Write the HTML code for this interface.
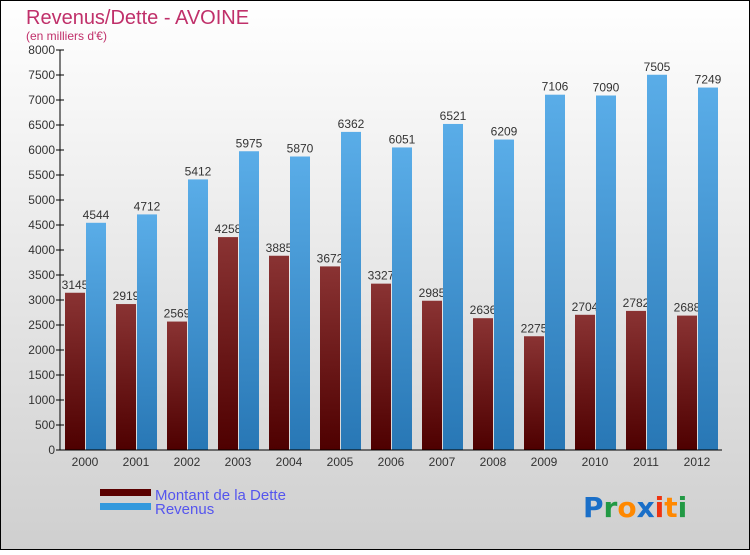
<!DOCTYPE html>
<html><head><meta charset="utf-8"><style>
body{margin:0;width:750px;height:550px;overflow:hidden;font-family:"Liberation Sans",sans-serif}
</style></head><body>
<svg width="750" height="550" xmlns="http://www.w3.org/2000/svg" font-family="Liberation Sans, sans-serif">
<defs>
<linearGradient id="bg" x1="0" y1="0" x2="0" y2="1"><stop offset="0" stop-color="#ffffff"/><stop offset="1" stop-color="#cfcfcf"/></linearGradient>
<linearGradient id="gd" x1="0" y1="0" x2="0" y2="1"><stop offset="0" stop-color="#8a3333"/><stop offset="1" stop-color="#4e0000"/></linearGradient>
<linearGradient id="gr" x1="0" y1="0" x2="0" y2="1"><stop offset="0" stop-color="#5aade8"/><stop offset="1" stop-color="#2877b5"/></linearGradient>
</defs>
<rect x="0.5" y="0.5" width="749" height="549" fill="url(#bg)" stroke="#000"/>
<text x="26" y="24" font-size="20" fill="#c0306a">Revenus/Dette - AVOINE</text>
<text x="26" y="40" font-size="12" fill="#c0306a">(en milliers d'€)</text>
<g id="plot"></g>
<rect x="100" y="489" width="51" height="7" fill="#5a0000"/>
<rect x="100" y="503" width="51" height="7" fill="#3399dd"/>
<text x="155" y="500" font-size="15" fill="#5555ee">Montant de la Dette</text>
<text x="155" y="514" font-size="15" fill="#5555ee">Revenus</text>
<g font-size="28" font-family="DejaVu Sans, sans-serif" font-weight="bold">
<text x="583" y="517"><tspan fill="#1a6fc8">P</tspan><tspan fill="#229944">r</tspan><tspan fill="#ff8800">o</tspan><tspan fill="#1a6fc8">x</tspan><tspan fill="#ee3311">i</tspan><tspan fill="#ff8800">t</tspan><tspan fill="#229944">i</tspan></text>
</g>
</svg>
<script>
const years=["2000","2001","2002","2003","2004","2005","2006","2007","2008","2009","2010","2011","2012"];
const dette=[3145,2919,2569,4258,3885,3672,3327,2985,2636,2275,2704,2782,2688];
const revenus=[4544,4712,5412,5975,5870,6362,6051,6521,6209,7106,7090,7505,7249];
const yTicks=[0,500,1000,1500,2000,2500,3000,3500,4000,4500,5000,5500,6000,6500,7000,7500,8000];
const NS="http://www.w3.org/2000/svg";
const g=document.getElementById('plot');
const y=v=>450-v*0.05;
const x=i=>60+51*i;
function el(t,a,p){const e=document.createElementNS(NS,t);for(const k in a)e.setAttribute(k,a[k]);(p||g).appendChild(e);return e;}
yTicks.forEach(v=>{
 const t=el('line',{x1:56,x2:64,y1:y(v),y2:y(v),stroke:'#000'});
 
 
 const l=el('text',{x:55,y:y(v)+4,'text-anchor':'end','font-size':12,fill:'#333'});
 
 
 l.textContent=v;
});
years.forEach((yr,i)=>{
 const b=el('rect',{x:x(i)+5,y:y(dette[i]),width:20,height:450-y(dette[i]),fill:'url(#gd)'});
 
 
 const l=el('text',{x:x(i)+15,y:y(dette[i])-4,'text-anchor':'middle','font-size':12,fill:'#333'});
 
 
 l.textContent=dette[i];
});
years.forEach((yr,i)=>{
 const b=el('rect',{x:x(i)+26,y:y(revenus[i]),width:20,height:450-y(revenus[i]),fill:'url(#gr)'});
 
 
 const l=el('text',{x:x(i)+36,y:y(revenus[i])-4,'text-anchor':'middle','font-size':12,fill:'#333'});
 
 
 l.textContent=revenus[i];
 const xl=el('text',{x:x(i)+25,y:466,'text-anchor':'middle','font-size':12,fill:'#333'});
 
 
 xl.textContent=yr;
});
const ya=el('line',{x1:60,x2:60,y1:50,y2:450,stroke:'#000'});


const xa=el('line',{x1:60,x2:722,y1:450,y2:450,stroke:'#000'});


</script>
</body></html>
